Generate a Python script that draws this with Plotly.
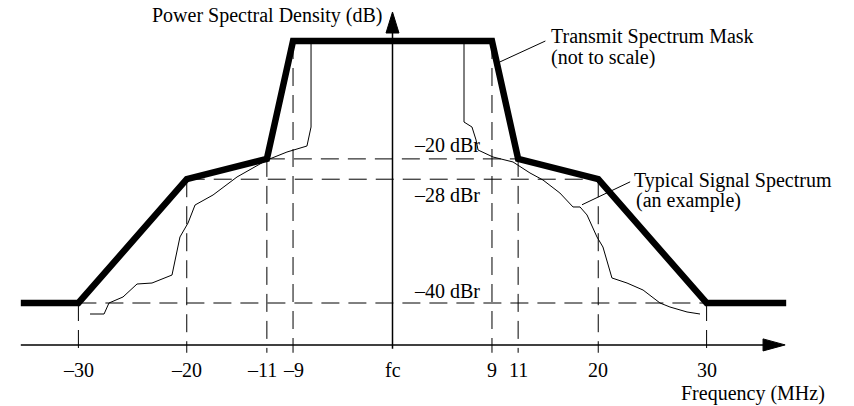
import plotly.graph_objects as go

# The diagram is "not to scale", so everything below is in drawing positions read off
# the picture: x is roughly MHz (exact at +-30), y is 0 at the mask top, -40 at the floor.
freq_labels = ["–30", "–20", "–11", "–9", "fc", "9", "11", "20", "30"]
freq_pos = [-30, -19.65, -12.0, -9.5, 0, 9.5, 12.0, 19.65, 30]
drop_from = [-40, -21.1, -18.0, 0, None, 0, -18.0, -21.1, -40]   # where each dashed drop line starts

level_labels = ["–20 dBr", "–28 dBr", "–40 dBr"]
level_pos = [-18.0, -21.1, -40.0]
level_half_span = [12.0, 19.65, 30]
level_label_y = [-15.9, -23.5, -38.2]

mask_x = [-35.5, -30, -19.65, -12.0, -9.5, 9.5, 12.0, 19.65, 30, 37.6]
mask_y = [-40, -40, -21.1, -18.0, 0, 0, -18.0, -21.1, -40, -40]

signal_x = [-28.89, -27.55, -27.08, -25.74, -24.40, -22.97, -21.06, -20.30, -19.53, -18.86,
            -17.14, -14.85, -11.99, -10.08, -8.17, -7.78, -7.78,
            6.83, 6.83, 7.59, 7.98, 8.17, 9.60, 11.51, 13.13, 14.37, 15.99, 17.24, 17.91,
            18.58, 19.53, 20.10, 20.96, 22.40, 23.93, 25.55, 26.50, 28.13, 29.37]
signal_y = [-41.68, -41.68, -40.0, -39.08, -37.10, -36.95, -35.73, -29.92, -27.79, -25.04,
            -23.51, -20.76, -18.17, -16.95, -16.03, -13.13, 0,
            0, -12.37, -13.13, -15.11, -16.64, -17.71, -18.47, -20.15, -21.22, -23.21, -25.34, -25.34,
            -26.56, -29.92, -31.45, -36.18, -36.95, -38.02, -40.0, -40.61, -41.37, -41.68]

FONT = dict(family="Liberation Serif, Times New Roman, serif", size=20, color="black")
DASH = "18px,9px"
AXIS_Y = -46.4
DROP_BOTTOM = -47.6

fig = go.Figure()

# dashed level lines
for lv, hs in zip(level_pos, level_half_span):
    fig.add_trace(go.Scatter(x=[-hs, hs], y=[lv, lv], mode="lines",
                             line=dict(color="black", width=1, dash=DASH)))

# dashed drop lines down to the frequency axis
for xp, top in zip(freq_pos, drop_from):
    if top is None:
        continue
    fig.add_trace(go.Scatter(x=[xp, xp], y=[top, DROP_BOTTOM], mode="lines",
                             line=dict(color="black", width=1, dash=DASH)))

# axes with arrows
fig.add_trace(go.Scatter(x=[-35.5, 36.0], y=[AXIS_Y, AXIS_Y], mode="lines",
                         line=dict(color="black", width=1.5)))
fig.add_trace(go.Scatter(x=[35.39, 37.5, 35.39, 35.39], y=[AXIS_Y + 0.92, AXIS_Y, AXIS_Y - 0.92, AXIS_Y + 0.92],
                         mode="lines", fill="toself", fillcolor="black", line=dict(color="black", width=1)))
fig.add_trace(go.Scatter(x=[0, 0], y=[-47.0, 2.0], mode="lines",
                         line=dict(color="black", width=1.5)))
fig.add_trace(go.Scatter(x=[-0.62, 0, 0.62, -0.62], y=[1.22, 4.43, 1.22, 1.22],
                         mode="lines", fill="toself", fillcolor="black", line=dict(color="black", width=1)))

# typical signal spectrum and the mask
fig.add_trace(go.Scatter(x=signal_x, y=signal_y, mode="lines",
                         line=dict(color="black", width=1)))
fig.add_trace(go.Scatter(x=mask_x, y=mask_y, mode="lines",
                         line=dict(color="black", width=6.5)))

# leader lines for the callouts
fig.add_trace(go.Scatter(x=[10.25, 14.6], y=[-3.2, 0.0], mode="lines", line=dict(color="black", width=1)))
fig.add_trace(go.Scatter(x=[18.1, 22.7], y=[-25.0, -21.5], mode="lines", line=dict(color="black", width=1)))

# tick labels (-11 sits a little left of its tick so it doesn't run into -9)
for lab, xp in zip(freq_labels, freq_pos):
    fig.add_annotation(x=xp, y=-50.2, text=lab, showarrow=False, font=FONT,
                       xanchor="center", yanchor="middle",
                       xshift=-5 if lab == "–11" else 0)

for lab, ly in zip(level_labels, level_label_y):
    fig.add_annotation(x=1.86, y=ly, text=lab, showarrow=False, font=FONT,
                       xanchor="left", yanchor="middle")

texts = [
    ("Power Spectral Density (dB)", 150, 16),
    ("Transmit Spectrum Mask", 549, 37),
    ("(not to scale)", 549, 57),
    ("Typical Signal Spectrum", 632, 180),
    ("(an example)", 634, 200),
    ("Frequency (MHz)", 679, 393),
]
for t, px, py in texts:
    fig.add_annotation(x=px / 854, y=1 - py / 406, xref="paper", yref="paper", text=t,
                       showarrow=False, font=FONT, xanchor="left", yanchor="middle")

fig.update_layout(
    width=854, height=406, autosize=False,
    margin=dict(l=0, r=0, t=0, b=0, pad=0),
    paper_bgcolor="white", plot_bgcolor="white",
    showlegend=False,
    xaxis=dict(range=[-37.488, 44.078], visible=False, fixedrange=True),
    yaxis=dict(range=[-55.725, 6.260], visible=False, fixedrange=True),
)

# drop the page's default body margin so the figure sits at the window's corner
fig.write_html("out.html", config={"displayModeBar": False},
               post_script="document.body.style.margin='0';document.body.style.overflow='hidden';")
